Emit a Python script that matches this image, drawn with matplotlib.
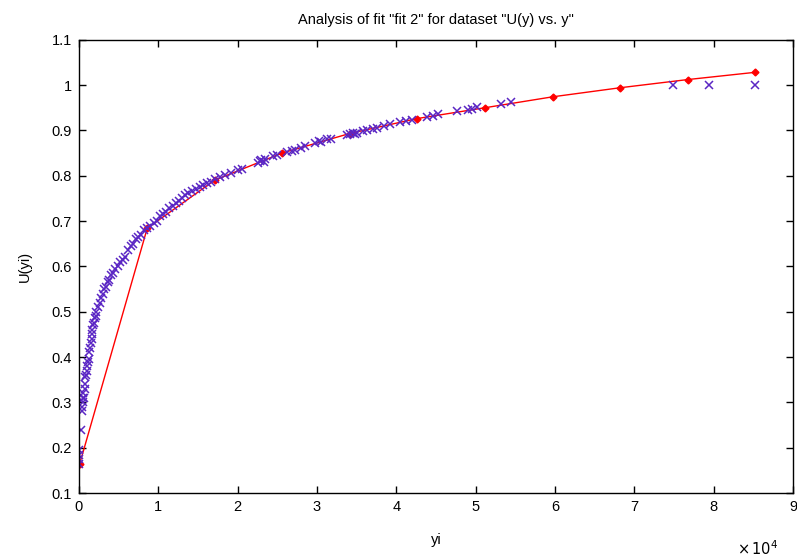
import numpy as np
import matplotlib
matplotlib.use('Agg')
from matplotlib import pyplot as plt

# fit curve evaluated points (x in units of 1e4)
fit_x = [0.01, 0.86, 1.71, 2.56, 3.41, 4.26, 5.12, 5.97, 6.82, 7.67, 8.52]
fit_y = [0.165, 0.684, 0.790, 0.850, 0.893, 0.926, 0.950, 0.974, 0.994, 1.012, 1.028]

# data points (x in units of 1e4)
data_x = [0.005, 0.005, 0.005, 0.005, 0.03, 0.04, 0.04, 0.05, 0.05, 0.05, 0.06, 0.07,
          0.08, 0.08, 0.09, 0.10, 0.10, 0.11, 0.12, 0.13, 0.14, 0.15, 0.16, 0.17, 0.17,
          0.18, 0.19, 0.20, 0.21, 0.22, 0.24, 0.26, 0.28, 0.30, 0.32, 0.34, 0.36, 0.38,
          0.40, 0.43, 0.46, 0.49, 0.52, 0.55, 0.58, 0.62, 0.65, 0.68, 0.72, 0.75, 0.78,
          0.82, 0.86, 0.90, 0.94, 0.98,
          1.02, 1.06, 1.10, 1.14, 1.18, 1.22, 1.26, 1.30, 1.34, 1.38, 1.42, 1.47, 1.52,
          1.56, 1.61, 1.66, 1.72, 1.78, 1.84, 1.92, 2.01, 2.05, 2.26, 2.28, 2.30, 2.33, 2.35,
          2.45, 2.50, 2.62, 2.68, 2.72, 2.80, 2.85, 2.98, 3.02, 3.05, 3.12, 3.18, 3.38,
          3.42, 3.45, 3.48, 3.50, 3.58, 3.63, 3.70, 3.75, 3.85, 3.92, 4.05, 4.12, 4.20,
          4.38, 4.46, 4.53, 4.77, 4.90, 4.95, 5.01, 5.32, 5.44, 7.49, 7.94, 8.52]
data_y = [0.165, 0.175, 0.185, 0.195, 0.24, 0.28, 0.29, 0.30, 0.31, 0.32, 0.31, 0.33,
          0.34, 0.355, 0.36, 0.37, 0.38, 0.39, 0.395, 0.41, 0.42, 0.43, 0.44, 0.45, 0.46,
          0.47, 0.475, 0.485, 0.49, 0.50, 0.51, 0.52, 0.53, 0.54, 0.55, 0.555, 0.565, 0.57,
          0.58, 0.585, 0.595, 0.60, 0.61, 0.615, 0.62, 0.635, 0.645, 0.65, 0.66, 0.665, 0.67,
          0.68, 0.685, 0.69, 0.695, 0.70,
          0.71, 0.715, 0.72, 0.728, 0.733, 0.74, 0.745, 0.75, 0.757, 0.762, 0.766, 0.77, 0.775,
          0.779, 0.783, 0.787, 0.792, 0.797, 0.801, 0.806, 0.812, 0.814, 0.828, 0.832, 0.834, 0.831, 0.836,
          0.843, 0.846, 0.852, 0.855, 0.857, 0.862, 0.866, 0.872, 0.876, 0.874, 0.88, 0.882, 0.889,
          0.892, 0.894, 0.891, 0.895, 0.899, 0.901, 0.904, 0.906, 0.910, 0.913, 0.918, 0.920, 0.922,
          0.929, 0.931, 0.935, 0.942, 0.946, 0.948, 0.951, 0.959, 0.962, 1.0, 1.0, 1.0]

x_ticks = [0, 1, 2, 3, 4, 5, 6, 7, 8, 9]
y_ticks = [0.1, 0.2, 0.3, 0.4, 0.5, 0.6, 0.7, 0.8, 0.9, 1.0, 1.1]

plt.rcParams['font.family'] = ['Liberation Sans', 'DejaVu Sans']
plt.rcParams['font.size'] = 10

fig = plt.figure(figsize=(7.97, 5.59), dpi=100)
ax = fig.add_axes([0.0991, 0.118, 0.896, 0.811])

fx = np.array(fit_x) * 1e4
dx = np.array(data_x) * 1e4
ax.plot(fx, fit_y, '-', color='red', lw=1, marker='D', ms=3.5, mfc='red', mec='red')
ax.plot(dx, data_y, 'x', color='#5a26c4', ms=5.5, mew=1.1, linestyle='none')

ax.set_xlim(0, 9e4)
ax.set_ylim(0.1, 1.1)
ax.set_xticks(np.array(x_ticks) * 1e4)
ax.set_yticks(y_ticks)
ax.xaxis.set_major_formatter(plt.FuncFormatter(lambda v, p: '%d' % round(v / 1e4)))
ax.yaxis.set_major_formatter(plt.FuncFormatter(lambda v, p: '%g' % round(v, 2)))
ax.tick_params(direction='in', top=True, right=True, length=5, width=1, labelsize=10.5, pad=5)
for s in ax.spines.values():
    s.set_linewidth(1)

ax.set_title('Analysis of fit "fit 2" for dataset "U(y) vs. y"', fontsize=10.5, pad=11)
ax.set_xlabel('yi', fontsize=10.5, labelpad=14)
ax.set_ylabel('U(yi)', fontsize=10.5, labelpad=14)
fig.text(0.925, 0.008, r'$\times\,10^{4}$', fontsize=10.5)

fig.savefig('out.png', dpi=100)
